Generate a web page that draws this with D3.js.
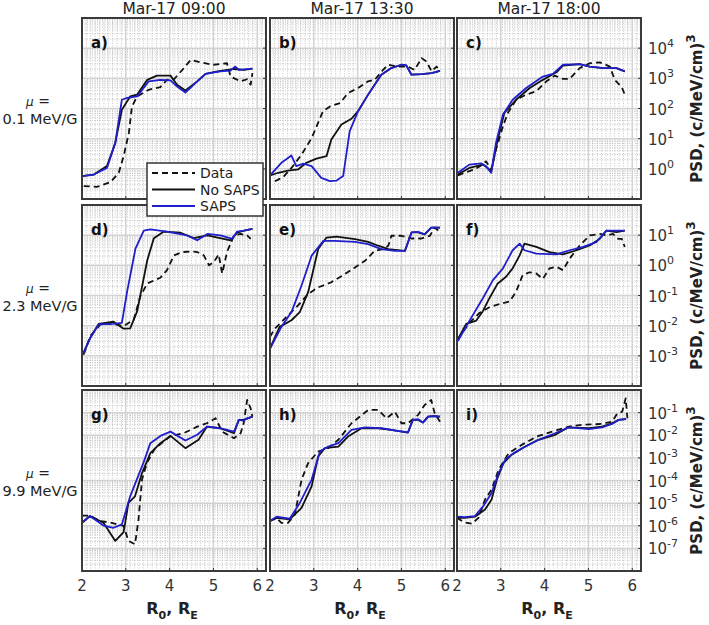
<!DOCTYPE html>
<html>
<head>
<meta charset="utf-8">
<script src="https://cdn.jsdelivr.net/npm/d3@7"></script>
<style>
  body { margin: 0; background: #fff; }
  svg { font-family: "DejaVu Sans", sans-serif; }
</style>
</head>
<body>
<svg id="chart" width="709" height="625"></svg>
<script>
// column titles, row labels, ticks
const columnTitles = ["Mar-17 09:00", "Mar-17 13:30", "Mar-17 18:00"];
const muLabels = ["0.1 MeV/G", "2.3 MeV/G", "9.9 MeV/G"];
const panelLetters = ["a)", "b)", "c)", "d)", "e)", "f)", "g)", "h)", "i)"];
const xTicks = [2, 3, 4, 5, 6];
const yDomains = [[1e-1, 1e5], [1e-4, 1e2], [1e-8, 1e0]];
const yTickExps = [[0, 1, 2, 3, 4], [-3, -2, -1, 0, 1], [-7, -6, -5, -4, -3, -2, -1]];
const seriesNames = ["Data", "No SAPS", "SAPS"];

// values: [R0, log10(PSD)]
const aData = [[2.04,-0.57],[2.34,-0.6],[2.65,-0.44],[2.84,-0.13],[2.95,0.42],[3.07,1.19],[3.14,2.07],[3.26,2.4],[3.52,2.62],[3.79,2.71],[3.94,2.95],[4.1,2.97],[4.29,3.28],[4.48,3.61],[4.7,3.53],[5.0,3.45],[5.31,3.5],[5.39,3.06],[5.62,2.9],[5.77,2.97],[5.85,2.79],[5.89,3.17]];
const aNoSaps = [[2,-0.24],[2.27,-0.19],[2.57,0.09],[2.76,0.86],[2.91,1.96],[3.1,2.4],[3.26,2.46],[3.49,2.95],[3.71,3.09],[4.02,3.09],[4.17,2.79],[4.36,2.6],[4.63,2.9],[4.82,3.15],[5.09,3.23],[5.47,3.31],[5.7,3.28],[5.89,3.32]];
const aSaps = [[2,-0.24],[2.27,-0.19],[2.57,0.03],[2.76,0.86],[2.91,2.29],[3.03,2.35],[3.26,2.4],[3.52,2.9],[3.79,2.95],[4.02,2.93],[4.17,2.73],[4.36,2.53],[4.63,2.9],[4.82,3.15],[5.16,3.23],[5.39,3.26],[5.5,3.39],[5.58,3.28],[5.89,3.32]];

const bData = [[2.11,-0.41],[2.3,-0.28],[2.49,0.03],[2.72,0.47],[2.95,1.02],[3.21,1.91],[3.37,2.07],[3.6,2.18],[3.78,2.51],[4.01,2.68],[4.24,2.9],[4.39,2.95],[4.58,3.28],[4.7,3.45],[4.92,3.39],[5.15,3.39],[5.3,3.28],[5.46,3.67],[5.57,3.56],[5.69,3.23],[5.8,3.39],[5.88,3.28]];
const bNoSaps = [[2,-0.22],[2.19,-0.13],[2.41,-0.06],[2.64,-0.02],[2.83,0.2],[3.06,0.34],[3.29,0.42],[3.4,0.97],[3.63,1.47],[3.86,1.66],[4.01,1.91],[4.24,2.46],[4.54,3.12],[4.77,3.34],[5.0,3.45],[5.11,3.43],[5.23,3.12],[5.46,3.14],[5.69,3.17],[5.88,3.25]];
const bSaps = [[2,-0.22],[2.26,0.2],[2.49,0.44],[2.6,0.09],[2.76,0.17],[2.95,0.09],[3.17,-0.3],[3.37,-0.41],[3.52,-0.39],[3.67,-0.24],[3.82,1.25],[4.01,1.91],[4.24,2.46],[4.54,3.12],[4.77,3.34],[5.0,3.45],[5.11,3.43],[5.23,3.12],[5.46,3.14],[5.69,3.17],[5.88,3.25]];

const cData = [[2.02,-0.22],[2.21,-0.11],[2.4,-0.02],[2.59,0.14],[2.66,0.25],[2.78,-0.02],[2.89,0.64],[3.05,1.41],[3.16,1.85],[3.35,2.29],[3.58,2.46],[3.81,2.57],[4.04,2.9],[4.23,3.09],[4.42,2.98],[4.57,2.98],[4.8,3.34],[5.03,3.5],[5.26,3.53],[5.49,3.39],[5.6,2.95],[5.76,2.71],[5.83,2.46]];
const cNoSaps = [[2.02,-0.19],[2.28,0.03],[2.59,0.14],[2.7,0.03],[2.78,-0.11],[2.93,0.97],[3.08,1.85],[3.35,2.29],[3.66,2.68],[3.96,2.95],[4.27,3.2],[4.42,3.42],[4.8,3.47],[5.03,3.39],[5.34,3.34],[5.64,3.34],[5.83,3.23]];
const cSaps = [[2.02,-0.13],[2.28,0.14],[2.55,0.18],[2.66,0.09],[2.78,-0.13],[2.89,0.86],[3.05,1.8],[3.27,2.29],[3.58,2.68],[3.96,3.06],[4.19,3.15],[4.42,3.45],[4.8,3.47],[5.03,3.39],[5.34,3.34],[5.64,3.34],[5.83,3.23]];

const dData = [[2.04,-2.95],[2.19,-2.34],[2.42,-1.96],[2.72,-1.94],[2.95,-2.02],[3.18,-1.8],[3.33,-1.03],[3.49,-0.6],[3.79,-0.41],[3.94,-0.16],[4.1,0.33],[4.29,0.44],[4.48,0.46],[4.63,0.44],[4.78,0.33],[4.9,0.0],[5.01,0.11],[5.12,0.36],[5.2,-0.27],[5.31,0.44],[5.47,0.99],[5.62,1.04],[5.77,0.99],[5.85,0.88]];
const dNoSaps = [[2.02,-2.95],[2.19,-2.4],[2.38,-1.94],[2.72,-1.87],[2.95,-2.1],[3.1,-2.09],[3.26,-1.52],[3.49,0.17],[3.64,0.9],[3.87,1.12],[4.25,1.08],[4.55,0.9],[4.86,0.99],[5.39,0.83],[5.54,1.08],[5.7,1.15],[5.89,1.21]];
const dSaps = [[2.02,-2.95],[2.19,-2.4],[2.38,-1.96],[2.72,-1.94],[2.91,-1.91],[3.03,-0.87],[3.22,0.55],[3.41,1.15],[3.56,1.19],[3.94,1.12],[4.4,0.99],[4.63,0.83],[4.86,1.04],[5.16,0.99],[5.43,0.88],[5.54,1.12],[5.7,1.15],[5.89,1.21]];

const eData = [[2,-2.37],[2.11,-2.1],[2.41,-1.66],[2.64,-1.33],[2.87,-0.95],[3.1,-0.73],[3.4,-0.56],[3.71,-0.29],[3.94,-0.07],[4.17,0.15],[4.39,0.48],[4.58,0.54],[4.7,0.65],[4.77,0.98],[5.0,0.98],[5.23,0.89],[5.46,0.89],[5.65,0.98],[5.76,1.25],[5.88,1.11]];
const eNoSaps = [[2,-2.76],[2.22,-2.04],[2.49,-1.82],[2.68,-1.55],[2.87,-0.89],[3.1,0.54],[3.29,0.92],[3.52,0.95],[3.94,0.87],[4.24,0.78],[4.47,0.65],[4.7,0.54],[5.08,0.48],[5.23,1.09],[5.38,1.09],[5.53,1.03],[5.68,1.25],[5.88,1.25]];
const eSaps = [[2,-2.76],[2.26,-2.04],[2.49,-1.55],[2.72,-0.67],[2.95,0.32],[3.22,0.81],[3.48,0.81],[3.94,0.78],[4.24,0.7],[4.54,0.54],[4.85,0.48],[5.08,0.48],[5.23,1.09],[5.38,1.11],[5.53,1.03],[5.68,1.25],[5.88,1.25]];

const fData = [[2.02,-2.45],[2.28,-1.91],[2.51,-1.58],[2.74,-1.39],[3.05,-1.25],[3.2,-1.2],[3.35,-0.87],[3.5,-0.32],[3.66,-0.23],[3.81,-0.27],[3.96,-0.45],[4.11,-0.1],[4.27,-0.05],[4.42,-0.16],[4.57,0.22],[4.8,0.66],[5.03,0.99],[5.26,1.04],[5.41,0.99],[5.56,1.04],[5.68,0.88],[5.76,0.88],[5.83,0.61]];
const fNoSaps = [[2.02,-2.45],[2.21,-1.94],[2.44,-1.83],[2.59,-1.52],[2.74,-1.09],[2.93,-0.6],[3.12,-0.38],[3.27,-0.1],[3.43,0.33],[3.54,0.72],[3.81,0.61],[4.11,0.44],[4.42,0.36],[4.73,0.5],[5.03,0.66],[5.26,0.88],[5.41,1.15],[5.64,1.1],[5.83,1.15]];
const fSaps = [[2.02,-2.51],[2.28,-1.85],[2.59,-1.09],[2.82,-0.49],[3.05,-0.1],[3.27,0.5],[3.43,0.72],[3.54,0.5],[3.81,0.39],[4.27,0.36],[4.57,0.5],[4.88,0.61],[5.18,0.77],[5.41,1.15],[5.64,1.15],[5.83,1.15]];

const gData = [[2,-5.55],[2.18,-5.55],[2.41,-5.79],[2.68,-5.87],[2.95,-6.01],[3.06,-6.67],[3.21,-6.82],[3.29,-5.72],[3.37,-3.96],[3.48,-3.23],[3.67,-2.57],[4.02,-2.03],[4.32,-1.91],[4.63,-1.62],[4.85,-1.47],[5.05,-1.25],[5.2,-1.84],[5.47,-2.13],[5.62,-1.91],[5.69,-1.47],[5.77,-0.44],[5.85,-0.81],[5.89,-1.18]];
const gNoSaps = [[2,-5.87],[2.18,-5.57],[2.49,-5.87],[2.76,-6.67],[2.95,-6.28],[3.06,-4.99],[3.21,-4.7],[3.37,-3.67],[3.56,-2.79],[3.79,-2.35],[4.02,-2.03],[4.36,-2.57],[4.66,-2.2],[4.85,-1.62],[5.15,-1.69],[5.47,-1.91],[5.58,-1.32],[5.69,-1.32],[5.89,-1.18]];
const gSaps = [[2,-5.87],[2.18,-5.57],[2.49,-5.99],[2.72,-6.09],[2.91,-5.94],[3.1,-4.7],[3.25,-3.96],[3.4,-3.23],[3.56,-2.35],[3.79,-2.03],[4.02,-1.84],[4.36,-2.23],[4.63,-1.98],[4.85,-1.62],[5.15,-1.69],[5.47,-1.84],[5.58,-1.32],[5.69,-1.35],[5.77,-1.25],[5.89,-1.18]];

const hData = [[2,-5.79],[2.15,-5.65],[2.26,-5.87],[2.41,-5.87],[2.57,-5.5],[2.72,-3.96],[2.87,-3.23],[3.1,-2.72],[3.33,-2.57],[3.56,-2.2],[3.86,-1.47],[4.24,-0.88],[4.47,-0.88],[4.66,-1.25],[4.85,-0.96],[5.0,-1.47],[5.15,-1.47],[5.38,-1.1],[5.53,-0.66],[5.68,-0.44],[5.76,-1.03],[5.88,-1.4]];
const hNoSaps = [[2,-5.79],[2.15,-5.65],[2.45,-5.72],[2.72,-5.21],[2.95,-4.26],[3.1,-2.94],[3.25,-2.57],[3.56,-2.5],[3.78,-2.06],[4.09,-1.69],[4.47,-1.69],[4.77,-1.76],[5.15,-1.88],[5.26,-1.32],[5.38,-1.32],[5.49,-1.44],[5.61,-1.18],[5.76,-1.15],[5.88,-1.18]];
const hSaps = [[2,-5.79],[2.15,-5.6],[2.45,-5.69],[2.68,-4.99],[2.95,-3.96],[3.14,-2.72],[3.33,-2.5],[3.56,-2.35],[3.86,-1.76],[4.17,-1.65],[4.54,-1.69],[4.85,-1.79],[5.15,-1.87],[5.26,-1.32],[5.38,-1.29],[5.49,-1.44],[5.61,-1.18],[5.76,-1.15],[5.88,-1.18]];

const iData = [[2,-5.65],[2.15,-5.84],[2.34,-5.91],[2.49,-5.65],[2.64,-4.84],[2.79,-4.4],[2.95,-3.52],[3.18,-2.79],[3.48,-2.42],[3.82,-2.06],[4.17,-1.84],[4.55,-1.62],[4.85,-1.54],[5.31,-1.5],[5.54,-1.4],[5.66,-1.03],[5.77,-0.96],[5.85,-0.37],[5.89,-1.25]];
const iNoSaps = [[2,-5.65],[2.18,-5.65],[2.41,-5.6],[2.64,-5.28],[2.79,-4.84],[2.91,-3.96],[3.06,-3.23],[3.25,-2.86],[3.56,-2.5],[3.86,-2.2],[4.24,-1.98],[4.55,-1.65],[5.01,-1.69],[5.31,-1.62],[5.54,-1.47],[5.69,-1.32],[5.86,-1.29]];
const iSaps = [[2,-5.6],[2.18,-5.62],[2.41,-5.57],[2.6,-5.13],[2.79,-4.55],[2.95,-3.67],[3.1,-3.08],[3.29,-2.79],[3.56,-2.5],[3.86,-2.2],[4.24,-1.91],[4.55,-1.65],[5.01,-1.73],[5.31,-1.65],[5.54,-1.5],[5.69,-1.32],[5.86,-1.28]];

const panelSeries = [
    [aData, aNoSaps, aSaps], [bData, bNoSaps, bSaps], [cData, cNoSaps, cSaps],
    [dData, dNoSaps, dSaps], [eData, eNoSaps, eSaps], [fData, fNoSaps, fSaps],
    [gData, gNoSaps, gSaps], [hData, hNoSaps, hSaps], [iData, iNoSaps, iSaps]
];

// layout
const colLeft = [82, 270, 457];
const rowTop = [18, 205, 390];
const panelW = 184;
const panelH = 181;
const blue = "#1f1fcc";
const seriesStyle = [
    { color: "#111", dash: "6,4" },
    { color: "#111", dash: null },
    { color: blue, dash: null }
];

var svg = d3.select("#chart");

function drawPanel(idx) {
    const col = idx % 3;
    const row = Math.floor(idx / 3);
    const x0 = colLeft[col];
    const y0 = rowTop[row];

    const x = d3.scaleLinear().domain([2, 6.2]).range([x0, x0 + panelW]);
    const y = d3.scaleLog().domain(yDomains[row]).range([y0 + panelH, y0]);

    const g = svg.append("g");
    g.append("rect").attr("x", x0).attr("y", y0).attr("width", panelW).attr("height", panelH)
        .attr("fill", "#fff");

    // minor grid
    const minorX = d3.range(21, 62).map(v => v / 10).filter(v => v % 1 !== 0);
    g.selectAll(".mx").data(minorX).enter().append("line")
        .attr("x1", d => x(d)).attr("x2", d => x(d))
        .attr("y1", y0).attr("y2", y0 + panelH)
        .attr("stroke", "#b4b4b4").attr("stroke-width", 0.8).attr("stroke-dasharray", "1,1.5");
    const lo = Math.log10(yDomains[row][0]);
    const hi = Math.log10(yDomains[row][1]);
    const minorY = [];
    for (let k = lo; k < hi; k++) for (let m = 2; m <= 9; m++) minorY.push(m * Math.pow(10, k));
    g.selectAll(".my").data(minorY).enter().append("line")
        .attr("x1", x0).attr("x2", x0 + panelW)
        .attr("y1", d => y(d)).attr("y2", d => y(d))
        .attr("stroke", "#b4b4b4").attr("stroke-width", 0.8).attr("stroke-dasharray", "1,1.5");

    // major grid
    g.selectAll(".gx").data([3, 4, 5, 6]).enter().append("line")
        .attr("x1", d => x(d)).attr("x2", d => x(d))
        .attr("y1", y0).attr("y2", y0 + panelH)
        .attr("stroke", "#d2d2d2").attr("stroke-width", 1.5);
    const majorY = d3.range(lo + 1, hi).map(k => Math.pow(10, k));
    g.selectAll(".gy").data(majorY).enter().append("line")
        .attr("x1", x0).attr("x2", x0 + panelW)
        .attr("y1", d => y(d)).attr("y2", d => y(d))
        .attr("stroke", "#d2d2d2").attr("stroke-width", 1.5);

    // series
    const clipId = "clip" + idx;
    svg.append("clipPath").attr("id", clipId).append("rect")
        .attr("x", x0).attr("y", y0).attr("width", panelW).attr("height", panelH);
    const line = d3.line().x(d => x(d[0])).y(d => y(Math.pow(10, d[1])));
    panelSeries[idx].forEach((s, i) => {
        g.append("path").datum(s)
            .attr("clip-path", `url(#${clipId})`)
            .attr("d", line)
            .attr("fill", "none")
            .attr("stroke", seriesStyle[i].color)
            .attr("stroke-width", 1.8)
            .attr("stroke-linejoin", "round")
            .attr("stroke-dasharray", seriesStyle[i].dash);
    });

    // ticks (inside)
    g.selectAll(".tx").data(xTicks).enter().append("line")
        .attr("x1", d => x(d)).attr("x2", d => x(d))
        .attr("y1", y0 + panelH).attr("y2", y0 + panelH - 3)
        .attr("stroke", "#333");
    g.selectAll(".ty").data(yTickExps[row]).enter().append("line")
        .attr("x1", x0 + panelW).attr("x2", x0 + panelW - 3)
        .attr("y1", d => y(Math.pow(10, d))).attr("y2", d => y(Math.pow(10, d)))
        .attr("stroke", "#333");

    // frame
    g.append("rect").attr("x", x0).attr("y", y0).attr("width", panelW).attr("height", panelH)
        .attr("fill", "none").attr("stroke", "#3a3a3a").attr("stroke-width", 2);

    g.append("text").attr("x", x0 + 9).attr("y", y0 + 30)
        .attr("font-size", 15).attr("font-weight", "bold").attr("fill", "#111")
        .text(panelLetters[idx]);

    // y tick labels on the right column
    if (col === 2) {
        const t = g.selectAll(".yl").data(yTickExps[row]).enter().append("text")
            .attr("x", x0 + panelW + 7).attr("y", d => y(Math.pow(10, d)) + 6)
            .attr("font-size", 15).attr("fill", "#333");
        t.append("tspan").text("10");
        t.append("tspan").attr("dy", -7).attr("font-size", 11).text(d => d);

        const lbl = svg.append("text")
            .attr("transform", `translate(702,${y0 + panelH / 2}) rotate(-90)`)
            .attr("text-anchor", "middle")
            .attr("font-size", 15).attr("font-weight", "bold").attr("fill", "#222");
        lbl.append("tspan").text("PSD, (c/MeV/cm)");
        lbl.append("tspan").attr("dy", -7).attr("font-size", 12).text("3");
    }

    // x tick labels on bottom row
    if (row === 2) {
        g.selectAll(".xl").data(xTicks).enter().append("text")
            .attr("x", d => x(d)).attr("y", y0 + panelH + 20)
            .attr("text-anchor", "middle").attr("font-size", 15).attr("fill", "#333")
            .text(d => d);
        const xl = g.append("text")
            .attr("x", x0 + panelW / 2 - 2).attr("y", y0 + panelH + 43)
            .attr("text-anchor", "middle").attr("font-size", 16).attr("font-weight", "bold").attr("fill", "#222");
        xl.append("tspan").text("R");
        xl.append("tspan").attr("dy", 5).attr("font-size", 11).text("0");
        xl.append("tspan").attr("dy", -5).text(", R");
        xl.append("tspan").attr("dy", 5).attr("font-size", 11).text("E");
    }

    if (row === 0) {
        svg.append("text").attr("x", x0 + panelW / 2).attr("y", 14)
            .attr("text-anchor", "middle").attr("font-size", 15.5).attr("fill", "#222")
            .text(columnTitles[col]);
    }
    if (col === 0) {
        const cy = y0 + panelH / 2;
        svg.append("text").attr("x", 38).attr("y", cy - 3)
            .attr("text-anchor", "middle").attr("font-size", 14).attr("fill", "#222")
            .html('<tspan font-style="italic" font-size="12">μ</tspan> =');
        svg.append("text").attr("x", 40).attr("y", cy + 15)
            .attr("text-anchor", "middle").attr("font-size", 14.5).attr("fill", "#222")
            .text(muLabels[row]);
    }
}

for (let i = 0; i < 9; i++) drawPanel(i);

// legend
const legend = svg.append("g");
legend.append("rect").attr("x", 147).attr("y", 163).attr("width", 116).attr("height", 53)
    .attr("fill", "#fff").attr("stroke", "#333").attr("stroke-width", 1.5);
seriesNames.forEach((name, i) => {
    const ly = 173 + i * 16.5;
    legend.append("line").attr("x1", 152).attr("x2", 195).attr("y1", ly).attr("y2", ly)
        .attr("stroke", seriesStyle[i].color).attr("stroke-width", 1.8)
        .attr("stroke-dasharray", seriesStyle[i].dash);
    legend.append("text").attr("x", 200).attr("y", ly + 5)
        .attr("font-size", 14).attr("fill", "#222").text(name);
});
</script>
</body>
</html>
